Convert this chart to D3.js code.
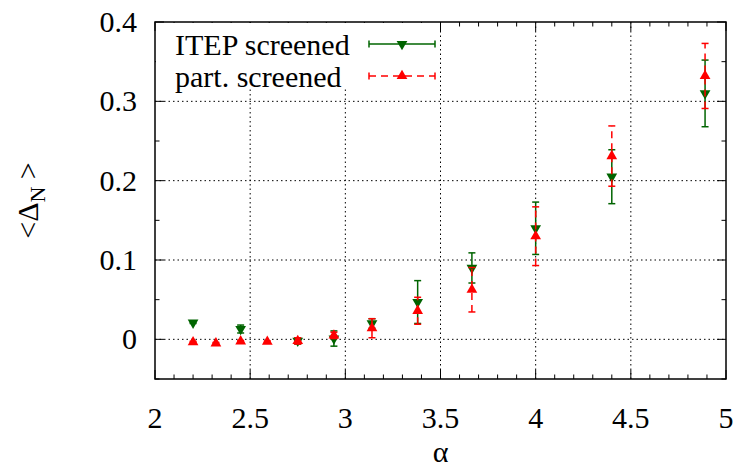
<!DOCTYPE html>
<html>
<head>
<meta charset="utf-8">
<script src="https://cdn.jsdelivr.net/npm/d3@7"></script>
<style>
  #chart text { font-family: "Liberation Serif", serif !important; }
</style>
</head>
<body style="margin:0">
<svg id="chart" width="738" height="472"></svg>
<script>
//////////////////// DATA ////////////////////
// ITEP screened (green, down triangles)
const alphaItep = [2.2, 2.45, 2.75, 2.94, 3.14, 3.38, 3.665, 4.0, 4.4, 4.89];
const valItep   = [0.021, 0.013, -0.002, 0.001, 0.020, 0.047, 0.090, 0.140, 0.205, 0.310];
const errItep   = [0.001, 0.005, 0.004, 0.0096, 0.006, 0.027, 0.019, 0.033, 0.034, 0.042];

// partially screened (red, up triangles)
const alphaPart = [2.2, 2.32, 2.45, 2.59, 2.75, 2.94, 3.14, 3.38, 3.665, 4.0, 4.4, 4.89];
const valPart   = [-0.0035, -0.005, -0.0025, -0.003, -0.002, 0.005, 0.014, 0.036, 0.0625, 0.130, 0.231, 0.332];
const errPart   = [0.001, 0.001, 0.001, 0.001, 0.004, 0.004, 0.012, 0.017, 0.028, 0.037, 0.038, 0.041];

const xTicks = [2, 2.5, 3, 3.5, 4, 4.5, 5];
const yTicks = [0, 0.1, 0.2, 0.3, 0.4];
const legendLabels = ["ITEP screened", "part. screened"];

//////////////////// SIZES ////////////////////
const plot = { left: 155, right: 726, top: 22, bottom: 379 };
const fontSize = 30;
const fontName = "Liberation Serif";

const svg = d3.select("#chart");

// every text goes through this helper so the serif face is set on the element itself
function addText(parent) {
    return parent.append("text")
        .attr("font-family", fontName)
        .style("font-family", `"${fontName}", serif`, "important")
        .attr("font-size", fontSize)
        .attr("fill", "#000");
}

//////////////////// SCALES ////////////////////
const x = d3.scaleLinear().domain([2, 5]).range([plot.left, plot.right]);
const y = d3.scaleLinear().domain([-0.05, 0.4]).range([plot.bottom, plot.top]);

//////////////////// GRID ////////////////////
const grid = svg.append("g")
    .attr("stroke", "#000")
    .attr("stroke-width", 1)
    .attr("stroke-dasharray", "1.5,3");

grid.selectAll(".gx")
    .data(xTicks.slice(1, -1))
    .enter().append("line")
    .attr("x1", d => x(d)).attr("x2", d => x(d))
    .attr("y1", plot.top).attr("y2", plot.bottom);

grid.selectAll(".gy")
    .data(yTicks.slice(0, -1))
    .enter().append("line")
    .attr("x1", plot.left).attr("x2", plot.right)
    .attr("y1", d => y(d)).attr("y2", d => y(d));

//////////////////// AXES (ticks on all four sides) ////////////////////
const xMinor = d3.range(20, 51).map(d => d / 10);
const yMinor = d3.range(-1, 9).map(d => d / 20);

const ticks = svg.append("g").attr("stroke", "#000").attr("stroke-width", 1);
xMinor.forEach(v => {
    const len = xTicks.some(t => Math.abs(t - v) < 1e-9) ? 9 : 4.5;
    ticks.append("line").attr("x1", x(v)).attr("x2", x(v)).attr("y1", plot.bottom).attr("y2", plot.bottom - len);
    ticks.append("line").attr("x1", x(v)).attr("x2", x(v)).attr("y1", plot.top).attr("y2", plot.top + len);
});
yMinor.forEach(v => {
    const len = yTicks.some(t => Math.abs(t - v) < 1e-9) ? 9 : 4.5;
    ticks.append("line").attr("x1", plot.left).attr("x2", plot.left + len).attr("y1", y(v)).attr("y2", y(v));
    ticks.append("line").attr("x1", plot.right).attr("x2", plot.right - len).attr("y1", y(v)).attr("y2", y(v));
});

// tick labels
const xLab = svg.append("g");
xTicks.forEach(t => {
    addText(xLab).attr("x", x(t)).attr("y", 428).attr("text-anchor", "middle").text(t);
});
const yLab = svg.append("g");
yTicks.forEach(t => {
    addText(yLab).attr("x", 137).attr("y", y(t) + 10).attr("text-anchor", "end").text(t);
});

// axis titles
addText(svg)
    .attr("x", (plot.left + plot.right) / 2)
    .attr("y", 462)
    .attr("text-anchor", "middle")
    .text("α");

const yTitle = addText(svg)
    .attr("transform", `translate(38,${(plot.top + plot.bottom) / 2}) rotate(-90)`)
    .attr("text-anchor", "middle");
yTitle.append("tspan").text("<Δ");
yTitle.append("tspan").attr("font-size", 22).attr("dy", 7).text("N");
yTitle.append("tspan").attr("dy", -7).text(" >");

//////////////////// SERIES ////////////////////
const series = [
    { xs: alphaItep, ys: valItep, es: errItep, color: "#006400", dash: null, rot: 180 },
    { xs: alphaPart, ys: valPart, es: errPart, color: "#ff0000", dash: "7,5", rot: 0 }
];
const tri = d3.symbol().type(d3.symbolTriangle).size(50);
const capW = 7;

series.forEach(s => {
    const g = svg.append("g");
    const pts = s.xs.map((a, i) => ({ a: a, v: s.ys[i], e: s.es[i] }));

    const bars = g.selectAll(".bar").data(pts).enter().append("g")
        .attr("stroke", s.color).attr("stroke-width", 1.5);
    bars.append("line")
        .attr("x1", d => x(d.a)).attr("x2", d => x(d.a))
        .attr("y1", d => y(d.v - d.e)).attr("y2", d => y(d.v + d.e))
        .attr("stroke-dasharray", s.dash);
    [-1, 1].forEach(sign => {
        bars.append("line")
            .attr("x1", d => x(d.a) - capW / 2).attr("x2", d => x(d.a) + capW / 2)
            .attr("y1", d => y(d.v + sign * d.e)).attr("y2", d => y(d.v + sign * d.e));
    });

    g.selectAll(".pt").data(pts).enter().append("path")
        .attr("d", tri)
        .attr("fill", s.color)
        .attr("transform", d => `translate(${x(d.a)},${y(d.v)}) rotate(${s.rot})`);
});

//////////////////// LEGEND ////////////////////
const legend = svg.append("g");
legend.append("rect")
    .attr("x", plot.left + 1).attr("y", plot.top + 1)
    .attr("width", 283).attr("height", 65)
    .attr("fill", "#fff");

series.forEach((s, i) => {
    const ly = 44 + i * 32;
    addText(legend).attr("x", 175).attr("y", ly + 11).text(legendLabels[i]);
    const lg = legend.append("g").attr("stroke", s.color).attr("stroke-width", 1.5);
    lg.append("line").attr("x1", 369).attr("x2", 435).attr("y1", ly).attr("y2", ly)
        .attr("stroke-dasharray", s.dash);
    lg.append("line").attr("x1", 369).attr("x2", 369).attr("y1", ly - 3.5).attr("y2", ly + 3.5);
    lg.append("line").attr("x1", 435).attr("x2", 435).attr("y1", ly - 3.5).attr("y2", ly + 3.5);
    legend.append("path").attr("d", tri).attr("fill", s.color)
        .attr("transform", `translate(402,${ly}) rotate(${s.rot})`);
});

// plot border
svg.append("rect")
    .attr("x", plot.left).attr("y", plot.top)
    .attr("width", plot.right - plot.left).attr("height", plot.bottom - plot.top)
    .attr("fill", "none").attr("stroke", "#000").attr("stroke-width", 1.5);
</script>
</body>
</html>
